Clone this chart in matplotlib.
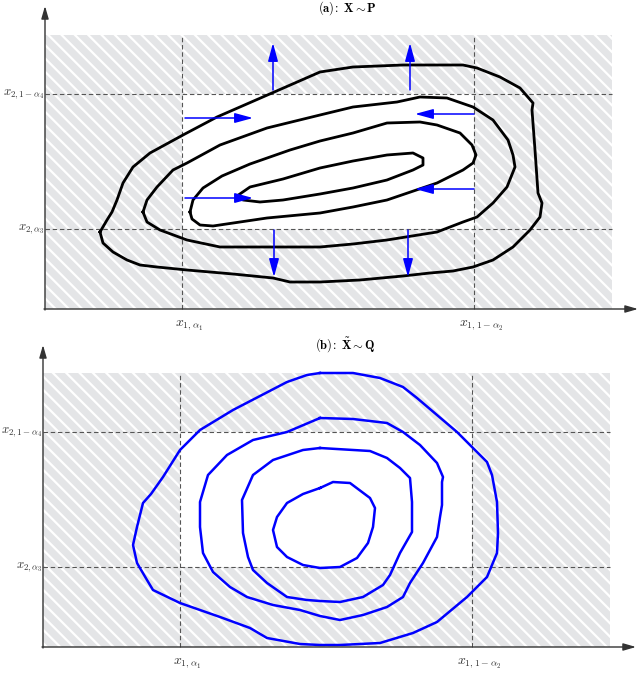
import matplotlib
matplotlib.use("Agg")
import matplotlib.pyplot as plt
from matplotlib.patches import Rectangle

plt.rcParams['mathtext.fontset'] = 'cm'
plt.rcParams['hatch.linewidth'] = 0.8
plt.rcParams['lines.scale_dashes'] = False

# frame of both panels (same units)
x_lo, x_hi = 137, 429          # x_{1,alpha1}, x_{1,1-alpha2}
y_lo, y_hi = 80, 215           # x_{2,alpha3}, x_{2,1-alpha4}
box_w, box_h = 567, 274
x_tick_labels = [r'$x_{1,\alpha_1}$', r'$x_{1,1-\alpha_2}$']
y_tick_labels = [r'$x_{2,\alpha_3}$', r'$x_{2,1-\alpha_4}$']

# panel (a): contours of P (black)
a1_x = [55, 62, 67, 72, 78, 88, 105, 138, 172, 227, 275, 308, 358, 418, 432, 455, 475, 488, 487, 490,
        493, 497, 495, 485, 468, 448, 428, 408, 385, 358, 315, 275, 245, 228, 188, 142, 112, 95, 82, 68, 58]
a1_y = [77, 89, 97, 109, 126, 142, 156, 174, 192, 216, 237, 242, 244, 244, 241, 232, 221, 206, 199, 159,
        116, 106, 92, 79, 62, 49, 42, 38, 36, 33, 29, 27, 27, 31, 35, 39, 42, 44, 49, 57, 66]
a2_x = [98, 102, 112, 128, 142, 175, 222, 275, 308, 352, 375, 402, 428, 448, 463, 468, 470, 462, 448,
        432, 418, 392, 342, 308, 275, 222, 175, 142, 115, 102]
a2_y = [97, 109, 122, 139, 146, 164, 181, 194, 202, 207, 212, 211, 202, 189, 169, 154, 142, 122, 106,
        92, 87, 77, 69, 65, 62, 62, 62, 69, 79, 87]
a3_x = [145, 148, 158, 177, 205, 245, 275, 308, 342, 375, 392, 415, 427, 431, 428, 418, 392, 342, 308,
        275, 222, 168, 155, 147]
a3_y = [97, 109, 121, 133, 145, 159, 168, 176, 186, 187, 184, 176, 164, 154, 146, 139, 126, 109, 102,
        96, 91, 83, 84, 90]
a4_x = [192, 205, 238, 275, 308, 342, 368, 378, 378, 368, 342, 308, 275, 238, 215, 198]
a4_y = [113, 122, 130, 141, 148, 154, 156, 151, 144, 139, 129, 121, 115, 109, 107, 109]

# panel (a): shift arrows (tail -> tip)
arrow_tail_x = [228, 365, 140, 140, 429, 429, 229, 363]
arrow_tail_y = [219, 219, 191, 111, 195, 120, 79, 79]
arrow_tip_x = [228, 365, 208, 208, 370, 370, 229, 363]
arrow_tip_y = [266, 266, 191, 111, 195, 120, 32, 32]

# panel (b): contours of Q (blue)
b1_x = [277, 310, 337, 360, 374, 394, 414, 430, 444, 449, 454, 455, 454, 444, 424, 394, 370, 337, 297,
        277, 257, 224, 207, 177, 137, 110, 104, 94, 90, 94, 100, 108, 120, 137, 157, 190, 244, 264]
b1_y = [274, 274, 269, 260, 249, 232, 215, 199, 185, 172, 145, 114, 94, 70, 50, 25, 14, 4, 2,
        2, 3, 9, 19, 30, 44, 57, 67, 84, 102, 120, 144, 153, 170, 197, 217, 237, 265, 272]
b2_x = [277, 310, 344, 360, 377, 394, 400, 399, 399, 397, 394, 380, 367, 360, 344, 320, 297, 277, 257,
        230, 204, 187, 170, 160, 157, 157, 165, 184, 210, 244]
b2_y = [229, 228, 224, 215, 202, 184, 170, 165, 142, 130, 110, 84, 64, 50, 40, 32, 27, 31, 37,
        42, 50, 60, 75, 94, 120, 145, 172, 192, 207, 215]
b3_x = [277, 327, 344, 357, 367, 369, 369, 357, 347, 340, 320, 297, 277, 264, 244, 224, 210, 205, 200,
        199, 210, 230, 260]
b3_y = [199, 196, 189, 179, 169, 145, 115, 94, 72, 62, 50, 45, 46, 47, 50, 64, 77, 90, 114,
        147, 172, 187, 197]
b4_x = [277, 290, 307, 327, 332, 330, 325, 314, 297, 277, 260, 244, 234, 230, 234, 244, 260]
b4_y = [159, 165, 164, 149, 139, 120, 104, 89, 80, 79, 82, 90, 100, 117, 130, 144, 153]

fig = plt.figure(figsize=(3.2, 3.365), dpi=200)
ax_a = fig.add_axes([0, 0.5, 1, 0.5])
ax_b = fig.add_axes([0, 0, 1, 0.5])
ax_a.set_xlim(-45, 595)
ax_a.set_ylim(-27.5, 309)
ax_b.set_xlim(-43, 597)
ax_b.set_ylim(-26, 310.5)


def frame(ax, title, top, title_y):
    ax.axis('off')
    ax.add_patch(Rectangle((0, 0), box_w, box_h, facecolor='#e4e5e7', edgecolor='white',
                           hatch='\\' * 5, linewidth=0, zorder=0))
    ax.add_patch(Rectangle((x_lo, y_lo), x_hi - x_lo, y_hi - y_lo, facecolor='white',
                           linewidth=0, zorder=1))
    for xv in [x_lo, x_hi]:
        ax.plot([xv, xv], [0, box_h], color='#555555', lw=0.4, dashes=(1.6, 1.0), zorder=2)
    for yv in [y_lo, y_hi]:
        ax.plot([0, box_w], [yv, yv], color='#555555', lw=0.4, dashes=(1.6, 1.0), zorder=2)
    ap = dict(arrowstyle='-|>,head_length=0.38,head_width=0.11', color='#333333', lw=0.5,
              shrinkA=0, shrinkB=0, mutation_scale=10)
    ax.annotate('', xy=(593, 0), xytext=(-1, 0), arrowprops=ap, zorder=5)
    ax.annotate('', xy=(0, top), xytext=(0, -1), arrowprops=ap, zorder=5)
    for xv, lab in zip([x_lo, x_hi], x_tick_labels):
        ax.text(xv + 7, -16, lab, ha='center', va='center', fontsize=5.0, color='#333333')
    for yv, lab in zip([y_lo, y_hi], y_tick_labels):
        ax.text(-1, yv, lab, ha='right', va='center', fontsize=4.6, color='#333333')
    ax.text(302, title_y, title, ha='center', va='center', fontsize=4.5)


frame(ax_a, r'$\mathbf{(a)\!:\ X \sim P}$', 303, 301)
frame(ax_b, r'$\mathbf{(b)\!:\ \tilde{X} \sim Q}$', 302, 302)

for cx, cy in [(a1_x, a1_y), (a2_x, a2_y), (a3_x, a3_y), (a4_x, a4_y)]:
    ax_a.plot(cx + cx[:1], cy + cy[:1], color='black', lw=1.0, solid_joinstyle='round', zorder=3)

for tx, ty, hx, hy in zip(arrow_tail_x, arrow_tail_y, arrow_tip_x, arrow_tip_y):
    ax_a.annotate('', xy=(hx, hy), xytext=(tx, ty), zorder=4,
                  arrowprops=dict(arrowstyle='-|>,head_length=0.55,head_width=0.15', color='blue',
                                  lw=0.55, shrinkA=0, shrinkB=0, mutation_scale=10))

for cx, cy in [(b1_x, b1_y), (b2_x, b2_y), (b3_x, b3_y), (b4_x, b4_y)]:
    ax_b.plot(cx + cx[:1], cy + cy[:1], color='blue', lw=0.9, solid_joinstyle='round', zorder=3)

fig.savefig('out.png', dpi=200)
